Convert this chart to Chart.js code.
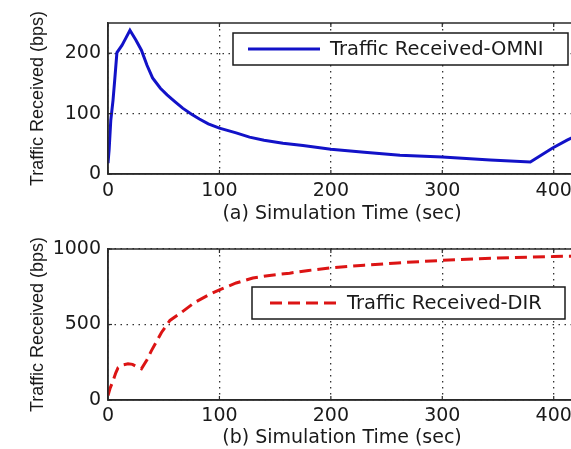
<!DOCTYPE html>
<html>
<head>
<meta charset="utf-8">
<script src="https://cdn.jsdelivr.net/npm/chart.js@4.4.1/dist/chart.umd.min.js"></script>
<style>
  html, body { margin: 0; padding: 0; background: #fff; overflow: hidden; width: 571px; height: 449px; }
  .wrap { position: absolute; left: 0; }
  canvas { display: block; }
</style>
</head>
<body>
<div class="wrap" style="top:0px"><canvas id="c1" width="580" height="224"></canvas></div>
<div class="wrap" style="top:224px"><canvas id="c2" width="580" height="225"></canvas></div>
<script>
// ---- data ----
const omniTime = [0, 1, 2.5, 4.5, 6, 8, 12.5, 16, 19.7, 25, 30, 35, 40, 47, 53, 60, 67, 75, 82, 90, 100, 115, 127, 140, 157, 175, 200, 230, 262, 300, 343, 379, 399, 412, 420];
const omniVals = [18, 40, 89, 122, 155, 201, 213, 225, 238, 222, 205, 180, 159, 142, 131, 120, 109, 99, 91, 83, 76, 68, 61, 56, 51, 47, 41, 36, 31, 28, 23, 20, 43, 56, 63];

const dirTime = [0, 2, 4.5, 7, 9, 13, 18, 22, 26, 30, 35, 39, 44, 48, 55.6, 64.6, 78, 90, 100, 115, 130, 145, 163, 180, 200, 230, 260, 300, 350, 400, 420];
const dirVals = [30, 80, 127, 180, 213, 232, 240, 236, 220, 207, 267, 327, 393, 447, 527, 573, 647, 695, 730, 775, 808, 825, 840, 858, 875, 893, 908, 925, 940, 950, 953];

const xTicks = [0, 100, 200, 300, 400];
const yTicksTop = [0, 100, 200];
const yTicksBottom = [0, 500, 1000];

const labelOmni = 'Traffic Received-OMNI';
const labelDir = 'Traffic Received-DIR';
const xTitleTop = '(a) Simulation Time (sec)';
const xTitleBottom = '(b) Simulation Time (sec)';
const yTitle = 'Traffic Received (bps)';

// ---- styling helpers ----
const TXT = '#1a1a1a';
const TICK_FONT = { family: 'DejaVu Sans', size: 19 };

const framePlugin = {
  id: 'frame',
  afterDraw(chart) {
    const { ctx, chartArea: a } = chart;
    ctx.save();
    ctx.strokeStyle = '#2a2a2a';
    ctx.lineWidth = 1.5;
    ctx.setLineDash([]);
    ctx.strokeRect(a.left, a.top, a.right - a.left, a.bottom - a.top);
    // small inward tick marks (MATLAB style)
    ctx.lineWidth = 1.2;
    const xs = chart.scales.x, ys = chart.scales.y;
    xs.ticks.forEach(t => {
      const px = xs.getPixelForValue(t.value);
      ctx.beginPath();
      ctx.moveTo(px, a.bottom); ctx.lineTo(px, a.bottom - 4);
      ctx.moveTo(px, a.top); ctx.lineTo(px, a.top + 4);
      ctx.stroke();
    });
    ys.ticks.forEach(t => {
      const py = ys.getPixelForValue(t.value);
      ctx.beginPath();
      ctx.moveTo(a.left, py); ctx.lineTo(a.left + 4, py);
      ctx.stroke();
    });
    ctx.restore();
  }
};

const boxLegendPlugin = {
  id: 'boxLegend',
  afterDraw(chart, args, opts) {
    const { ctx, chartArea: a } = chart;
    const ds = chart.data.datasets[0];
    const x0 = a.left + opts.dx, y0 = a.top + opts.dy;
    const x1 = a.right - opts.rightGap, h = opts.h;
    ctx.save();
    ctx.fillStyle = '#fff';
    ctx.fillRect(x0, y0, x1 - x0, h);
    ctx.strokeStyle = '#1a1a1a';
    ctx.lineWidth = 1.5;
    ctx.strokeRect(x0, y0, x1 - x0, h);
    const cy = y0 + h / 2;
    ctx.strokeStyle = ds.borderColor;
    ctx.lineWidth = ds.borderWidth;
    ctx.setLineDash(ds.borderDash || []);
    ctx.beginPath();
    ctx.moveTo(x0 + opts.s0, cy);
    ctx.lineTo(x0 + opts.s1, cy);
    ctx.stroke();
    ctx.setLineDash([]);
    ctx.fillStyle = TXT;
    ctx.font = opts.font;
    ctx.textBaseline = 'middle';
    ctx.textAlign = 'left';
    ctx.fillText(ds.label, x0 + opts.tx, cy + 1);
    ctx.restore();
  }
};

function makeChart(id, xs, ys, label, color, dash, yMax, yTicks, xTitle, padTop, xScaleH, legendOpts, xTickPad, titlePadBottom) {
  return new Chart(document.getElementById(id), {
    type: 'line',
    data: {
      datasets: [{
        label: label,
        data: xs.map((x, i) => ({ x: x, y: ys[i] })),
        borderColor: color,
        borderWidth: 3,
        borderDash: dash,
        pointRadius: 0,
        tension: 0,
        fill: false
      }]
    },
    options: {
      responsive: false,
      animation: false,
      devicePixelRatio: 1,
      layout: { padding: { top: padTop, right: 4, left: 0, bottom: 0 } },
      plugins: {
        legend: { display: false },
        tooltip: { enabled: false },
        boxLegend: legendOpts
      },
      scales: {
        x: {
          type: 'linear',
          min: 0, max: 420,
          afterBuildTicks: s => { s.ticks = xTicks.map(v => ({ value: v })); },
          afterFit: s => { s.height = xScaleH; },
          grid: { color: '#333', lineWidth: 1.3, drawTicks: false },
          border: { display: true, color: '#2a2a2a', width: 1.5, dash: [1.5, 4.5] },
          ticks: { color: TXT, font: TICK_FONT, padding: xTickPad, maxRotation: 0, callback: v => String(v) },
          title: { display: true, text: xTitle, color: TXT, font: { family: 'DejaVu Sans', size: 19, lineHeight: 1 }, padding: { top: 0, bottom: titlePadBottom } }
        },
        y: {
          type: 'linear',
          min: 0, max: yMax,
          afterBuildTicks: s => { s.ticks = yTicks.map(v => ({ value: v })); },
          afterFit: s => { s.width = 108; },
          grid: { color: '#333', lineWidth: 1.3, drawTicks: false },
          border: { display: true, color: '#2a2a2a', width: 1.5, dash: [1.5, 4.5] },
          ticks: { color: TXT, font: TICK_FONT, padding: 7, callback: v => String(v) },
          title: { display: true, text: yTitle, color: TXT, font: { family: 'Liberation Sans', size: 18, lineHeight: 1 }, padding: { top: 29, bottom: 0 } }
        }
      }
    },
    plugins: [framePlugin, boxLegendPlugin]
  });
}

const c1 = makeChart('c1', omniTime, omniVals, labelOmni, 'rgb(18,18,200)', [], 250, yTicksTop, xTitleTop, 23, 50,
  { dx: 125, dy: 10, rightGap: 8, h: 32, s0: 15, s1: 87, tx: 97, font: '19.5px "DejaVu Sans"' }, 6, 0);
const c2 = makeChart('c2', dirTime, dirVals, labelDir, 'rgb(220,20,20)', [12, 6], 1000, yTicksBottom, xTitleBottom, 25, 49,
  { dx: 144, dy: 38, rightGap: 11, h: 32, s0: 18, s1: 88, tx: 95, font: '19.5px "DejaVu Sans"' }, 5, 1);
</script>
</body>
</html>
